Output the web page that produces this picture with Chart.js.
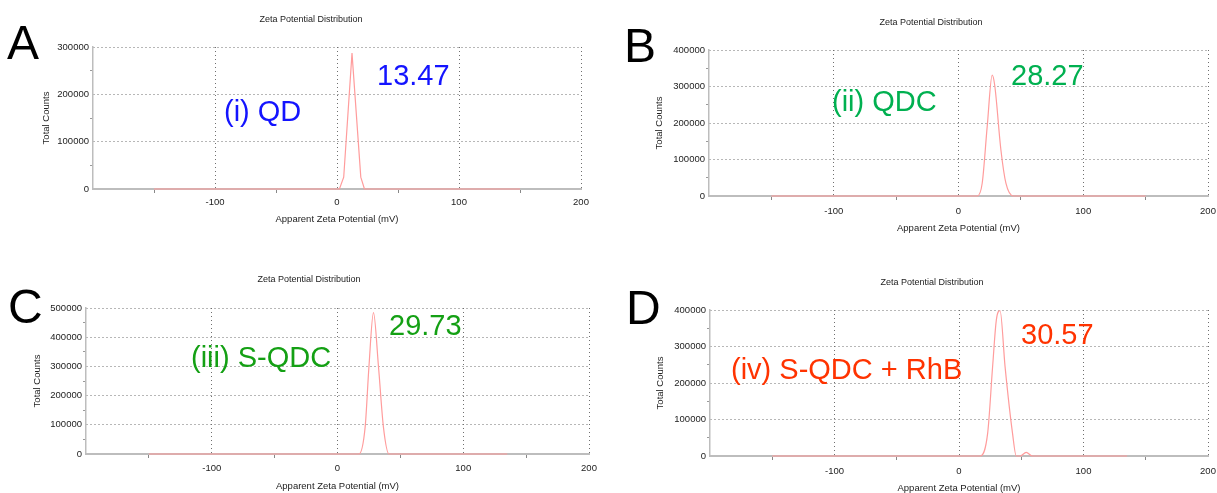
<!DOCTYPE html>
<html><head><meta charset="utf-8">
<script src="https://cdn.jsdelivr.net/npm/chart.js@4.4.1/dist/chart.umd.min.js"></script>
<style>
html,body{margin:0;padding:0;background:#fff;width:1217px;height:493px;overflow:hidden;position:relative;font-family:"Liberation Sans",Arial,sans-serif}
canvas{position:absolute}
.t{position:absolute;white-space:nowrap;line-height:1}
</style></head><body>
<script>
// ---------- data ----------
const chartTitle = 'Zeta Potential Distribution';
const xAxisTitle = 'Apparent Zeta Potential (mV)';
const yAxisTitle = 'Total Counts';
const panelLetters = ['A', 'B', 'C', 'D'];
const sampleNames = ['(i) QD', '(ii) QDC', '(iii) S-QDC', '(iv) S-QDC + RhB'];
const peakValues = ['13.47', '28.27', '29.73', '30.57'];

const xTickLabels = [-100, 0, 100, 200];
const xRange = [-200, 200];
const yTicksA = [0, 100000, 200000, 300000];
const yTicksB = [0, 100000, 200000, 300000, 400000];
const yTicksC = [0, 100000, 200000, 300000, 400000, 500000];
const yTicksD = [0, 100000, 200000, 300000, 400000];

const zetaA   = [-150, 2, 5.5, 12.3, 19.5, 22.5, 150];
const countsA = [0, 0, 25000, 287000, 25000, 0, 0];
const zetaB   = [-150, 15, 19, 23, 27, 29, 34, 38, 44, 150];
const countsB = [0, 0, 35000, 190000, 331000, 304000, 126000, 35000, 0, 0];
const zetaC   = [-150, 17, 22, 25, 28.6, 32.6, 36.5, 41, 135];
const countsC = [0, 0, 93000, 299000, 484000, 299000, 93000, 0, 0];
const zetaD   = [-150, 17, 23, 27, 30, 33, 37, 43, 46, 49, 54, 59, 135];
const countsD = [0, 0, 62000, 245000, 373000, 398000, 245000, 62000, 0, 0, 10000, 0, 0];

// ---------- layout / style ----------
const FONT = '"Liberation Sans", Arial, sans-serif';
const panels = [
  {zeta: zetaA, counts: countsA, yTicks: yTicksA, mode: 'default',
   cv: {left: 0, top: 0, w: 600, h: 240}, area: {l: 93, r: 581, t: 47, b: 189}, yTitleX: 46, xTitleY: 219, tickPad: 4,
   title: {x: 311, y: 19}, letter: {x: 7, y: 19}, name: {x: 224, y: 97, c: '#1414ff'}, peak: {x: 377, y: 61, c: '#1414ff'}},
  {zeta: zetaB, counts: countsB, yTicks: yTicksB, mode: 'monotone',
   cv: {left: 610, top: 0, w: 630, h: 240}, area: {l: 99, r: 598, t: 50, b: 196}, yTitleX: 49, xTitleY: 228, tickPad: 6,
   title: {x: 931, y: 21.5}, letter: {x: 624, y: 22}, name: {x: 832, y: 87, c: '#00b050'}, peak: {x: 1011, y: 61, c: '#00b050'}},
  {zeta: zetaC, counts: countsC, yTicks: yTicksC, mode: 'monotone',
   cv: {left: 0, top: 250, w: 610, h: 250}, area: {l: 86, r: 589, t: 58, b: 204}, yTitleX: 37, xTitleY: 236.5, tickPad: 5,
   title: {x: 309, y: 279}, letter: {x: 8, y: 283}, name: {x: 191, y: 343, c: '#14a014'}, peak: {x: 389, y: 311, c: '#14a014'}},
  {zeta: zetaD, counts: countsD, yTicks: yTicksD, mode: 'monotone',
   cv: {left: 610, top: 250, w: 630, h: 250}, area: {l: 100, r: 598, t: 60, b: 206}, yTitleX: 50, xTitleY: 238, tickPad: 6,
   title: {x: 932, y: 281.5}, letter: {x: 626, y: 284}, name: {x: 731, y: 354.5, c: '#ff3300'}, peak: {x: 1021, y: 320, c: '#ff3300'}}
];

function addText(txt, x, y, size, color, center) {
  const d = document.createElement('div');
  d.className = 't';
  d.textContent = txt;
  d.style.left = x + 'px';
  d.style.top = y + 'px';
  d.style.fontSize = size + 'px';
  d.style.color = color;
  if (center) d.style.transform = 'translate(-50%,-50%)';
  document.body.appendChild(d);
}

const GRID = '#6f6f6f';
const AXIS = '#bdbdbd';
const TICKF = {family: FONT, size: 9.5, lineHeight: 1.2};
const TITLEF = {family: FONT, size: 9.5, lineHeight: 1.2};

panels.forEach((p, i) => {
  const c = document.createElement('canvas');
  c.width = p.cv.w; c.height = p.cv.h;
  c.style.left = p.cv.left + 'px'; c.style.top = p.cv.top + 'px';
  c.style.width = p.cv.w + 'px'; c.style.height = p.cv.h + 'px';
  document.body.appendChild(c);

  const yScaleLeft = p.yTitleX - 5.7;
  const yWidth = p.area.l - yScaleLeft;
  const xHeight = p.xTitleY - p.area.b + 5.7;
  const yMax = p.yTicks[p.yTicks.length - 1];
  const yStep = (p.yTicks[1] - p.yTicks[0]) / 2;

  new Chart(c, {
    type: 'scatter',
    data: {datasets: [{
      data: p.zeta.map((z, k) => ({x: z, y: p.counts[k]})),
      showLine: true, borderColor: '#ff9c9c', borderWidth: 1.2,
      pointRadius: 0, cubicInterpolationMode: p.mode, tension: 0, clip: 4
    }]},
    options: {
      responsive: false, animation: false, devicePixelRatio: 1,
      layout: {padding: {left: yScaleLeft, right: p.cv.w - p.area.r, top: p.area.t, bottom: p.cv.h - p.area.b - xHeight}},
      plugins: {legend: {display: false}, tooltip: {enabled: false}, title: {display: false}},
      scales: {
        x: {
          type: 'linear', min: xRange[0], max: xRange[1],
          afterFit: s => { s.height = xHeight; },
          ticks: {stepSize: 50, autoSkip: false, maxRotation: 0, padding: p.tickPad, color: '#222', font: TICKF,
            callback: v => xTickLabels.includes(v) ? String(v) : ''},
          grid: {
            color: ctx => (ctx.tick && xTickLabels.includes(ctx.tick.value)) ? GRID : 'rgba(0,0,0,0)',
            tickColor: ctx => (ctx.tick && !xTickLabels.includes(ctx.tick.value) && ctx.tick.value !== xRange[0]) ? '#888' : 'rgba(0,0,0,0)',
            tickLength: 4, lineWidth: 1
          },
          border: {display: true, color: AXIS, width: 2, dash: [1, 3]},
          title: {display: true, text: xAxisTitle, color: '#222', font: TITLEF, padding: 0}
        },
        y: {
          type: 'linear', min: 0, max: yMax,
          afterFit: s => { s.width = yWidth; },
          ticks: {stepSize: yStep, autoSkip: false, padding: 1, color: '#222', font: TICKF,
            callback: v => p.yTicks.includes(v) ? String(v) : ''},
          grid: {
            color: ctx => (ctx.tick && p.yTicks.includes(ctx.tick.value) && ctx.tick.value !== 0) ? GRID : 'rgba(0,0,0,0)',
            tickColor: ctx => (ctx.tick && !p.yTicks.includes(ctx.tick.value)) ? '#999' : 'rgba(0,0,0,0)',
            tickLength: 3, lineWidth: 1
          },
          border: {display: true, color: AXIS, width: 1.5, dash: [1, 3]},
          title: {display: true, text: yAxisTitle, color: '#222', font: TITLEF, padding: 0}
        }
      }
    }
  });

  addText(chartTitle, p.title.x, p.title.y, 9, '#222', true);
  addText(panelLetters[i], p.letter.x, p.letter.y, 48, '#000', false);
  addText(sampleNames[i], p.name.x, p.name.y, 29, p.name.c, false);
  addText(peakValues[i], p.peak.x, p.peak.y, 29, p.peak.c, false);
});
</script>
</body></html>
